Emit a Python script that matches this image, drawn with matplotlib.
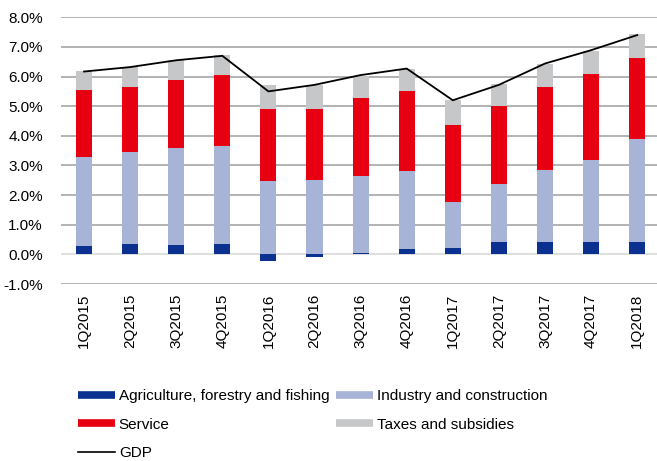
import numpy as np
import matplotlib
matplotlib.use("Agg")
import matplotlib.pyplot as plt
from matplotlib.lines import Line2D

plt.rcParams['font.family'] = ['Liberation Sans', 'DejaVu Sans']
plt.rcParams['font.size'] = 11

quarters = ["1Q2015", "2Q2015", "3Q2015", "4Q2015", "1Q2016", "2Q2016", "3Q2016",
            "4Q2016", "1Q2017", "2Q2017", "3Q2017", "4Q2017", "1Q2018"]
agriculture = [0.27, 0.36, 0.31, 0.36, -0.23, -0.08, 0.06, 0.18, 0.21, 0.42, 0.42, 0.42, 0.42]
industry = [3.03, 3.09, 3.28, 3.29, 2.47, 2.52, 2.60, 2.62, 1.57, 1.96, 2.44, 2.78, 3.47]
service = [2.26, 2.20, 2.31, 2.40, 2.45, 2.40, 2.61, 2.71, 2.60, 2.63, 2.79, 2.90, 2.74]
taxes = [0.62, 0.68, 0.65, 0.67, 0.78, 0.78, 0.74, 0.76, 0.82, 0.73, 0.79, 0.77, 0.79]
gdp = [6.17, 6.32, 6.55, 6.70, 5.50, 5.72, 6.05, 6.27, 5.20, 5.72, 6.44, 6.89, 7.40]
y_ticks = [-1, 0, 1, 2, 3, 4, 5, 6, 7, 8]

c_agri = "#0a3190"
c_ind = "#a7b4d8"
c_serv = "#e60012"
c_tax = "#c6c7c9"

fig = plt.figure(figsize=(6.57, 4.61), dpi=100)
ax = fig.add_axes([61 / 657, 1 - 284 / 461, 1 - 61 / 657, (284 - 17.3) / 461])

x = np.arange(len(quarters))
agri = np.array(agriculture)
ind = np.array(industry)
serv = np.array(service)
tax = np.array(taxes)
w = 0.35

base_pos = np.clip(agri, 0, None)
ax.bar(x, agri, w, color=c_agri, zorder=3)
ax.bar(x, ind, w, bottom=base_pos, color=c_ind, zorder=3)
ax.bar(x, serv, w, bottom=base_pos + ind, color=c_serv, zorder=3)
ax.bar(x, tax, w, bottom=base_pos + ind + serv, color=c_tax, zorder=3)
ax.plot(x, gdp, color="black", lw=1.3, zorder=4)

ax.set_xlim(-0.5, 12.43)
ax.set_ylim(-1, 8)
ax.set_yticks(y_ticks)
ax.set_yticklabels([f"{v:.1f}%" for v in y_ticks])
ax.set_xticks(x)
ax.set_xticklabels(quarters, rotation=90)
ax.tick_params(axis='both', length=0, labelsize=11)
ax.tick_params(axis='y', pad=13)
ax.tick_params(axis='x', pad=7)
for s in ax.spines.values():
    s.set_visible(False)
for v in y_ticks:
    ax.axhline(v, color="#d9d9d9" if v == 0 else "#a6a6a6", lw=1.2, zorder=1)

handles = [
    Line2D([], [], color=c_agri, lw=5.5, solid_capstyle='butt'),
    Line2D([], [], color=c_serv, lw=5.5, solid_capstyle='butt'),
    Line2D([], [], color="black", lw=1.2),
    Line2D([], [], color=c_ind, lw=5.5, solid_capstyle='butt'),
    Line2D([], [], color=c_tax, lw=5.5, solid_capstyle='butt'),
]
labels = ["Agriculture, forestry and fishing", "Service", "GDP",
          "Industry and construction", "Taxes and subsidies"]
fig.legend(handles, labels, ncol=2, loc='upper left',
           bbox_to_anchor=(78 / 657, 1 - 389 / 461), frameon=False,
           fontsize=11, handlelength=2.4, handletextpad=0.27,
           columnspacing=0.45, labelspacing=0.95, borderpad=0,
           borderaxespad=0)

fig.savefig("out.png", dpi=100)
